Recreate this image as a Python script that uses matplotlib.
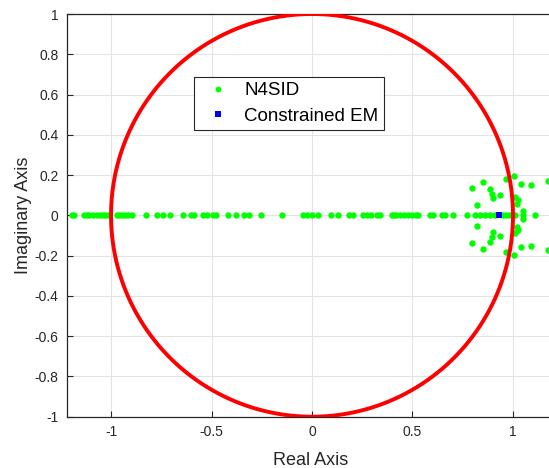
import numpy as np
import matplotlib
matplotlib.use("Agg")
import matplotlib.pyplot as plt

plt.rcParams['font.family'] = ['Liberation Sans', 'DejaVu Sans']

# Real-axis N4SID poles
n4sid_real = [-1.196, -1.184, -1.134, -1.121, -1.108, -1.088, -1.070, -1.055, -1.040,
              -1.028, -1.015, -0.970, -0.959, -0.945, -0.930, -0.914, -0.897, -0.826,
              -0.771, -0.741, -0.709, -0.642, -0.602, -0.587, -0.542, -0.522, -0.493,
              -0.478, -0.418, -0.378, -0.338, -0.313, -0.254, -0.151, -0.045, -0.025,
              0.000, 0.030, 0.095, 0.129, 0.184, 0.204, 0.254, 0.274, 0.294, 0.323,
              0.338, 0.398, 0.410, 0.420, 0.440, 0.460, 0.480, 0.500, 0.515, 0.527,
              0.587, 0.602, 0.645, 0.662, 0.701, 0.770, 0.811, 0.836, 0.861, 0.886,
              0.910, 0.950, 0.965, 0.980, 1.010, 1.050, 1.109]
# Complex N4SID poles (upper half; conjugates are mirrored)
n4sid_cre = [0.795, 0.852, 0.819, 0.886, 0.894, 0.900, 0.935, 0.964, 1.006, 1.040,
             1.090, 1.174, 1.010, 1.025, 1.018, 1.048]
n4sid_cim = [0.137, 0.166, 0.052, 0.130, 0.108, 0.085, 0.103, 0.183, 0.195, 0.158,
             0.150, 0.172, 0.090, 0.075, 0.058, 0.020]
# Constrained EM poles
em_re = [0.932]
em_im = [0.0]

xticks = [-1, -0.5, 0, 0.5, 1]
xticklabels = ['-1', '-0.5', '0', '0.5', '1']
yticks = [-1, -0.8, -0.6, -0.4, -0.2, 0, 0.2, 0.4, 0.6, 0.8, 1]
yticklabels = ['-1', '-0.8', '-0.6', '-0.4', '-0.2', '0', '0.2', '0.4', '0.6', '0.8', '1']

W, H = 549, 468
fig = plt.figure(figsize=(W / 100, H / 100), dpi=100)
left, right, top, bottom = 67, 555, 14, 416.7
ax = fig.add_axes([left / W, 1 - bottom / H, (right - left) / W, (bottom - top) / H])

gx = list(n4sid_real) + list(n4sid_cre) + list(n4sid_cre)
gy = [0.0] * len(n4sid_real) + list(n4sid_cim) + [-v for v in n4sid_cim]
ax.plot(gx, gy, linestyle='none', marker='o', color='#00ff00', markersize=4.6,
        markeredgewidth=0, label='N4SID', zorder=3)
ax.plot(em_re, em_im, linestyle='none', marker='s', color='#0000ff', markersize=4.2,
        markeredgewidth=0, label='Constrained EM', zorder=4)

t = np.linspace(0, 2 * np.pi, 400)
ax.plot(np.cos(t), np.sin(t), color='#ff0000', linewidth=2.8, zorder=5)

ax.set_xlim(-1.219, 1.209)
ax.set_ylim(-1, 1)
ax.set_xticks(xticks)
ax.set_xticklabels(xticklabels)
ax.set_yticks(yticks)
ax.set_yticklabels(yticklabels)
ax.tick_params(direction='in', length=4, width=0.8, colors='#262626', labelsize=10,
               top=False, right=False, pad=6)
ax.grid(True, color='#e3e3e3', linewidth=0.8)
ax.set_axisbelow(True)
for s in ax.spines.values():
    s.set_color('#262626')
    s.set_linewidth(0.9)

ax.set_xlabel('Real Axis', fontsize=13, color='#262626', labelpad=9)
ax.set_ylabel('Imaginary Axis', fontsize=13, color='#262626', labelpad=2)

leg = ax.legend(loc='upper left', bbox_to_anchor=((194 - left) / (right - left), (bottom - 77) / (bottom - top)),
                borderaxespad=0, fontsize=13.5, fancybox=False, edgecolor='#262626',
                framealpha=1, handlelength=2.0, handletextpad=0.4, borderpad=0.28,
                labelspacing=0.45, markerscale=0.9)
leg.get_frame().set_linewidth(0.8)

fig.savefig('out.png', dpi=100)
